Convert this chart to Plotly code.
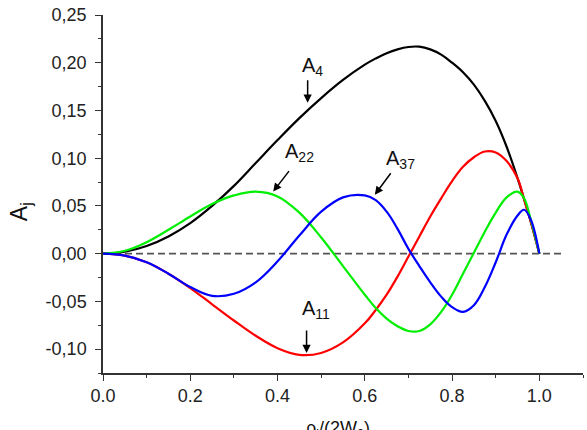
import plotly.graph_objects as go

# ---------------- data ----------------
x_vals = [0, 0.05, 0.1, 0.15, 0.2, 0.25, 0.3, 0.35, 0.4, 0.45, 0.5, 0.55, 0.6, 0.625, 0.65, 0.675,
          0.7, 0.725, 0.75, 0.775, 0.8, 0.825, 0.85, 0.875, 0.9, 0.925, 0.95, 0.965, 0.98, 1.0]

a4 = [0, 0.002, 0.008, 0.018, 0.032, 0.050, 0.071, 0.095, 0.119, 0.142, 0.163, 0.182, 0.198, 0.2045, 0.210, 0.214,
      0.2165, 0.2168, 0.214, 0.2085, 0.200, 0.190, 0.177, 0.160, 0.139, 0.112, 0.079, 0.057, 0.034, 0]

a11 = [0, -0.002, -0.009, -0.021, -0.036, -0.053, -0.070, -0.086, -0.099, -0.106, -0.104, -0.093, -0.073, -0.059, -0.043, -0.024,
       -0.003, 0.018, 0.039, 0.058, 0.076, 0.091, 0.101, 0.107, 0.106, 0.097, 0.079, 0.057, 0.034, 0]

a22 = [0, 0.003, 0.012, 0.025, 0.039, 0.052, 0.061, 0.065, 0.060, 0.043, 0.017, -0.013, -0.043, -0.057, -0.068, -0.076,
       -0.081, -0.081, -0.074, -0.061, -0.043, -0.021, 0.001, 0.023, 0.043, 0.059, 0.065, 0.058, 0.036, 0]

a37 = [0, -0.002, -0.009, -0.021, -0.035, -0.0442, -0.042, -0.030, -0.008, 0.019, 0.044, 0.059, 0.061, 0.056, 0.044, 0.026,
       0.005, -0.013, -0.030, -0.045, -0.056, -0.061, -0.054, -0.035, -0.009, 0.020, 0.040, 0.046, 0.036, 0]

series_names = ["A4", "A11", "A22", "A37"]
series_values = [a4, a11, a22, a37]
series_colors = ["#000000", "#ff0000", "#00ee00", "#0000ff"]

y_tick_vals = [-0.10, -0.05, 0.00, 0.05, 0.10, 0.15, 0.20, 0.25]
y_tick_text = ["-0,10", "-0,05", "0,00", "0,05", "0,10", "0,15", "0,20", "0,25"]

# curve labels with arrows
label_texts = ["A<sub>4</sub>", "A<sub>11</sub>", "A<sub>22</sub>", "A<sub>37</sub>"]
arrow_heads = [(0.469, 0.158), (0.4665, -0.104), (0.39, 0.065), (0.623, 0.0617)]
arrow_tails_px = [(0, -24), (0, -24), (17, -22), (17, -23)]
label_pos = [(0.481, 0.196), (0.488, -0.058), (0.451, 0.106), (0.682, 0.099)]

FONT = "Liberation Sans, Arial, Helvetica, sans-serif"

fig = go.Figure()

# dashed zero line
fig.add_shape(type="line", x0=0, x1=1.055, y0=0, y1=0, xref="x", yref="y",
              line=dict(color="#555555", width=1.6, dash="7px,4px"), layer="below")

for name, vals, col in zip(series_names, series_values, series_colors):
    fig.add_trace(go.Scatter(x=x_vals, y=vals, mode="lines", name=name,
                             line=dict(color=col, width=2.2, shape="spline", smoothing=1.1),
                             showlegend=False, hoverinfo="skip"))

for (hx, hy), (dx, dy) in zip(arrow_heads, arrow_tails_px):
    fig.add_annotation(x=hx, y=hy, xref="x", yref="y", text="", showarrow=True,
                       ax=dx, ay=dy, arrowhead=2, arrowsize=1.1, arrowwidth=1.5,
                       arrowcolor="#000000", standoff=0, startstandoff=0)

for txt, (tx, ty) in zip(label_texts, label_pos):
    fig.add_annotation(x=tx, y=ty, xref="x", yref="y", text=txt, showarrow=False,
                       font=dict(family=FONT, size=20, color="#111111"),
                       xanchor="center", yanchor="middle")

# axis titles
fig.add_annotation(x=-0.173, y=0.452, xref="paper", yref="paper", text="A<sub>j</sub>",
                   showarrow=False, textangle=-90, font=dict(family=FONT, size=23, color="#111111"),
                   xanchor="center", yanchor="middle")
fig.add_annotation(x=0.49, y=-0.12, xref="paper", yref="paper", text="ρ<sub>j</sub>/(2W<sub>0</sub>)",
                   showarrow=False, font=dict(family=FONT, size=18, color="#111111"),
                   xanchor="center", yanchor="top")

axis_common = dict(showline=True, linecolor="#333333", linewidth=1.5, showgrid=False,
                   zeroline=False, ticks="outside", ticklen=6, tickwidth=1.3, tickcolor="#333333",
                   tickfont=dict(family=FONT, size=18, color="#222222"), mirror=False)

fig.update_xaxes(range=[0, 1.1], tickmode="linear", tick0=0, dtick=0.2, tickformat=".1f",
                 minor=dict(ticks="outside", ticklen=3, tickwidth=1.2, tickcolor="#333333",
                            tickmode="linear", tick0=0, dtick=0.1),
                 **axis_common)
fig.update_yaxes(range=[-0.125, 0.25], tickmode="array", tickvals=y_tick_vals, ticktext=y_tick_text,
                 ticklabelstandoff=5,
                 minor=dict(ticks="outside", ticklen=3, tickwidth=1.2, tickcolor="#333333",
                            tickmode="linear", tick0=0, dtick=0.025),
                 **axis_common)

fig.update_layout(width=587, height=430, margin=dict(l=103, r=4, t=15, b=57),
                  plot_bgcolor="white", paper_bgcolor="white", showlegend=False)

fig.write_html("out.html")
